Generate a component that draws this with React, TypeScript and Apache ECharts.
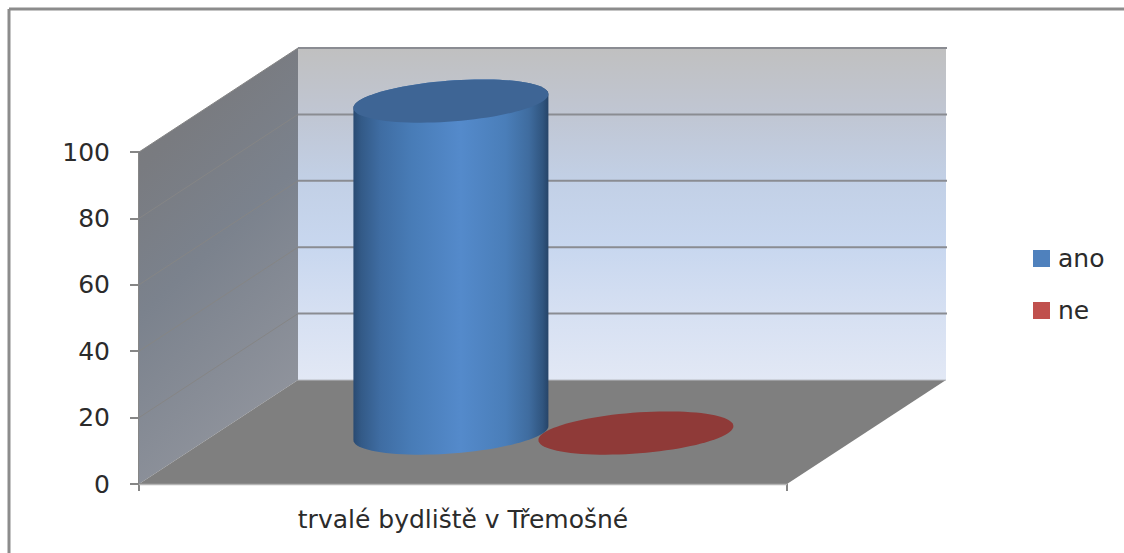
import React, { useEffect, useRef } from "react";
import * as echarts from "echarts";

const categories = ["trvalé bydliště v Třemošné"];
const anoValues = [100];
const neValues = [0];
const yTicks = [0, 20, 40, 60, 80, 100];

const DX = 159;
const DY = -104;
const FONT = "'DejaVu Sans', 'Open Sans', sans-serif";
const TEXT = "#2b2b2b";
const AXIS = "#868686";

function grad(x2: number, y2: number, stops: [number, string][]) {
  return {
    type: "linear", x: 0, y: 0, x2, y2,
    colorStops: stops.map(([offset, color]) => ({ offset, color })),
  };
}

function renderWalls(_p: any, api: any) {
  const [x0, y0] = api.coord([0, 0]);
  const band = api.size([1, 0])[0];
  const left = x0 - band / 2;
  const right = x0 + band / 2;
  const yTop = api.coord([0, 100])[1];
  const children: any[] = [];
  children.push({
    type: "polygon",
    shape: { points: [[left + DX, yTop + DY], [right + DX, yTop + DY], [right + DX, y0 + DY], [left + DX, y0 + DY]] },
    style: {
      fill: grad(0, 1, [[0, "#c0c0c0"], [0.2, "#c0c6d3"], [0.4, "#c2d0e6"], [0.6, "#c8d7ef"], [0.8, "#d6e0f2"], [1, "#e2e8f5"]]),
    },
  });
  children.push({
    type: "polygon",
    shape: { points: [[left, yTop], [left + DX, yTop + DY], [left + DX, y0 + DY], [left, y0]] },
    style: {
      fill: grad(0.35, 1, [[0, "#7a7a7a"], [0.25, "#797b80"], [0.55, "#7b828d"], [1, "#8f939c"]]),
    },
  });
  children.push({
    type: "polygon",
    shape: { points: [[left, y0], [left + DX, y0 + DY], [right + DX, y0 + DY], [right, y0]] },
    style: { fill: "#7f7f7f" },
  });
  yTicks.forEach((t) => {
    const y = api.coord([0, t])[1];
    if (t > 0) {
      children.push({
        type: "line",
        shape: { x1: left + DX, y1: y + DY, x2: right + DX + 1, y2: y + DY },
        style: { stroke: "#8a8c92", lineWidth: 2 },
      });
      children.push({
        type: "line",
        shape: { x1: left, y1: y, x2: left + DX, y2: y + DY },
        style: { stroke: "#858585", lineWidth: 1 },
      });
    }
  });
  children.push({
    type: "line",
    shape: { x1: left + DX, y1: y0 + DY, x2: right + DX, y2: y0 + DY },
    style: { stroke: "#b9bcc2", lineWidth: 1 },
  });
  children.push({
    type: "line",
    shape: { x1: left, y1: y0 + 0.5, x2: right, y2: y0 + 0.5 },
    style: { stroke: "#b5b5b5", lineWidth: 1.5 },
  });
  return { type: "group", children };
}

function ellipsePoints(cx: number, cy: number, rx: number, ry: number, tilt: number, from = 0, to = 360) {
  const pts: number[][] = [];
  for (let a = from; a <= to; a += 4) {
    const t = (a * Math.PI) / 180;
    pts.push([cx + rx * Math.cos(t), cy + ry * Math.sin(t) - tilt * Math.cos(t)]);
  }
  return pts;
}

function makeCylinder(offset: number, topFill: string, bodyFill: any) {
  return (_p: any, api: any) => {
    const cat = api.value(0);
    const val = api.value(1);
    const [bx, by] = api.coord([cat, 0]);
    const topY = api.coord([cat, val])[1];
    const cx = bx + offset + DX * 0.49;
    const baseY = by + DY * 0.49;
    const cyTop = topY + DY * 0.49;
    const rx = 97.5;
    const ry = 20.5;
    const tilt = 7;
    const children: any[] = [];
    if (val > 0) {
      const lower = ellipsePoints(cx, baseY, rx, ry, tilt, 0, 180);
      const upper = ellipsePoints(cx, cyTop, rx, ry, tilt, 180, 360);
      children.push({
        type: "polygon",
        shape: { points: [...lower, ...upper] },
        style: { fill: bodyFill },
      });
    }
    children.push({
      type: "polygon",
      shape: { points: ellipsePoints(cx, cyTop, rx, ry, tilt) },
      style: { fill: topFill },
    });
    return { type: "group", children };
  };
}

const blueBody = grad(1, 0, [
  [0, "#294a72"], [0.04, "#335a87"], [0.14, "#3f6da3"], [0.3, "#487cb7"], [0.55, "#548acb"],
  [0.78, "#4a7eb9"], [0.9, "#3f6c9f"], [0.97, "#30557f"], [1, "#264468"],
]);

export default function App() {
  const ref = useRef<HTMLDivElement>(null);
  useEffect(() => {
    const chart = echarts.init(ref.current!, undefined, { renderer: "svg" });
    chart.setOption({
      animation: false,
      backgroundColor: "#ffffff",
      textStyle: { fontFamily: FONT },
      color: ["#7f7f7f", "#c0504d", "#4f81bd"],
      grid: { left: 139, right: 337, top: 152, bottom: 69, containLabel: false },
      xAxis: {
        type: "category",
        data: categories,
        axisLine: { lineStyle: { color: AXIS, width: 1.5 } },
        axisTick: { show: true, length: 7, alignWithLabel: false, lineStyle: { color: AXIS, width: 2 } },
        axisLabel: { margin: 23, fontSize: 25, color: TEXT, fontFamily: FONT },
        splitLine: { show: false },
      },
      yAxis: {
        type: "value",
        min: 0,
        max: 100,
        interval: 20,
        axisLine: { show: true, lineStyle: { color: AXIS, width: 2 } },
        axisTick: { show: true, length: 9, lineStyle: { color: AXIS, width: 2 } },
        axisLabel: { margin: 29, fontSize: 25, color: TEXT, fontFamily: FONT },
        splitLine: { show: false },
      },
      legend: {
        orient: "vertical",
        left: 1028,
        top: 241,
        itemWidth: 17,
        itemHeight: 17,
        itemGap: 27,
        icon: "rect",
        data: ["ano", "ne"],
        textStyle: { fontSize: 25, color: TEXT, fontFamily: FONT, padding: [0, 0, 0, 3] },
      },
      graphic: [
        { type: "line", shape: { x1: 9, y1: 9, x2: 1124, y2: 9 }, style: { stroke: "#8c8c8c", lineWidth: 3 } },
        { type: "line", shape: { x1: 9, y1: 9, x2: 9, y2: 553 }, style: { stroke: "#8c8c8c", lineWidth: 3 } },
      ],
      series: [
        { name: "stěny", type: "custom", z: 1, renderItem: renderWalls, data: [[0, 0]], silent: true },
        {
          name: "ne", type: "custom", z: 2, itemStyle: { color: "#c0504d" },
          encode: { x: 0, y: 1 },
          renderItem: makeCylinder(95, "#8f3a38", "#8f3a38"),
          data: neValues.map((v, i) => [i, v]),
        },
        {
          name: "ano", type: "custom", z: 3, itemStyle: { color: "#4f81bd" },
          encode: { x: 0, y: 1 },
          renderItem: makeCylinder(-90, "#3e6595", blueBody),
          data: anoValues.map((v, i) => [i, v]),
        },
      ],
    });
    return () => chart.dispose();
  }, []);
  return <div ref={ref} style={{ position: "fixed", left: 0, top: 0, width: 1124, height: 553 }} />;
}
